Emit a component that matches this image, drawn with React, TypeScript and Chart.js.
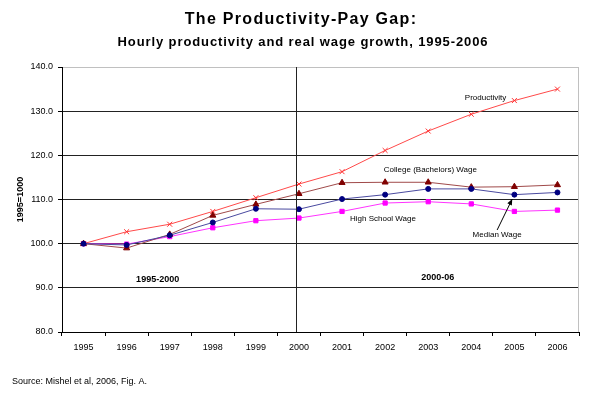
import React, { useEffect, useRef } from "react";
import { Chart, registerables } from "chart.js";

Chart.register(...registerables);

const years = ["1995", "1996", "1997", "1998", "1999", "2000", "2001", "2002", "2003", "2004", "2005", "2006"];
const productivity = [100, 102.7, 104.4, 107.3, 110.4, 113.5, 116.3, 121.1, 125.5, 129.3, 132.4, 135.0];
const collegeWage = [100, 99.0, 102.1, 106.4, 108.9, 111.3, 113.8, 113.9, 113.9, 112.8, 112.9, 113.3];
const medianWage = [100, 99.7, 101.9, 104.8, 107.9, 107.8, 110.1, 111.1, 112.4, 112.4, 111.1, 111.6];
const highSchoolWage = [100, 99.9, 101.6, 103.6, 105.2, 105.8, 107.3, 109.2, 109.5, 109.0, 107.3, 107.6];
const yMin = 80;
const yMax = 140;
const yStep = 10;

const FONT = "'Liberation Sans', Arial, sans-serif";

const overlayPlugin = {
  id: "overlay",
  beforeDraw(chart: any) {
    const { ctx, width, height } = chart;
    ctx.save();
    ctx.fillStyle = "#ffffff";
    ctx.fillRect(0, 0, width, height);
    ctx.restore();
  },
  afterDraw(chart: any) {
    const { ctx, chartArea } = chart;
    const xs = chart.scales.x;
    const ys = chart.scales.y;
    const px = (v: number) => xs.getPixelForValue(v);
    const py = (v: number) => ys.getPixelForValue(v);
    ctx.save();

    // right border
    ctx.strokeStyle = "#c0c0c0";
    ctx.lineWidth = 1;
    ctx.beginPath();
    ctx.moveTo(Math.round(chartArea.right) - 0.5, chartArea.top);
    ctx.lineTo(Math.round(chartArea.right) - 0.5, chartArea.bottom);
    ctx.stroke();

    // vertical divider at 2000
    const dx = Math.round(px(4.94)) + 0.5;
    ctx.strokeStyle = "#222222";
    ctx.beginPath();
    ctx.moveTo(dx, chartArea.top);
    ctx.lineTo(dx, chartArea.bottom);
    ctx.stroke();

    // titles
    ctx.fillStyle = "#000";
    ctx.textAlign = "center";
    ctx.textBaseline = "middle";
    ctx.font = `bold 16px ${FONT}`;
    (ctx as any).letterSpacing = "1.3px";
    ctx.fillText("The Productivity-Pay Gap:", 301, 20);
    ctx.font = `bold 13px ${FONT}`;
    (ctx as any).letterSpacing = "0.9px";
    ctx.fillText("Hourly productivity and real wage growth, 1995-2006", 303, 42);
    (ctx as any).letterSpacing = "0px";

    // source
    ctx.textAlign = "left";
    ctx.font = `9px ${FONT}`;
    ctx.fillText("Source: Mishel et al, 2006, Fig. A.", 12, 382);

    // y axis title
    ctx.save();
    ctx.translate(21, (chartArea.top + chartArea.bottom) / 2);
    ctx.rotate(-Math.PI / 2);
    ctx.textAlign = "center";
    ctx.font = `bold 9px ${FONT}`;
    ctx.fillText("1995=1000", 0, 0);
    ctx.restore();

    // series annotations
    ctx.textAlign = "center";
    ctx.font = `8px ${FONT}`;
    ctx.fillText("Productivity", px(9.33), py(133.1));
    ctx.fillText("College (Bachelors) Wage", px(8.05), py(116.7));
    ctx.fillText("High School Wage", px(6.95), py(105.6));
    ctx.fillText("Median Wage", px(9.6), py(102.0));
    ctx.font = `bold 9px ${FONT}`;
    ctx.fillText("1995-2000", px(1.72), py(91.8));
    ctx.fillText("2000-06", px(8.22), py(92.3));

    // arrow
    const x1 = px(9.6), y1 = py(103.1);
    const x2 = px(9.95), y2 = py(110.1);
    ctx.strokeStyle = "#000";
    ctx.lineWidth = 1;
    ctx.beginPath();
    ctx.moveTo(x1, y1);
    ctx.lineTo(x2, y2);
    ctx.stroke();
    const ang = Math.atan2(y2 - y1, x2 - x1);
    const hl = 6, hw = 2.5;
    ctx.fillStyle = "#000";
    ctx.beginPath();
    ctx.moveTo(x2, y2);
    ctx.lineTo(x2 - hl * Math.cos(ang) + hw * Math.sin(ang), y2 - hl * Math.sin(ang) - hw * Math.cos(ang));
    ctx.lineTo(x2 - hl * Math.cos(ang) - hw * Math.sin(ang), y2 - hl * Math.sin(ang) + hw * Math.cos(ang));
    ctx.closePath();
    ctx.fill();

    ctx.restore();
  },
};

export default function App() {
  const ref = useRef<HTMLCanvasElement | null>(null);
  useEffect(() => {
    if (!ref.current) return;
    const chart = new Chart(ref.current, {
      type: "line",
      data: {
        labels: years,
        datasets: [
          {
            label: "Median Wage",
            data: medianWage,
            borderColor: "#4a4aa0",
            backgroundColor: "#000080",
            pointBorderColor: "#000080",
            pointStyle: "circle",
            pointRadius: 2.5,
            borderWidth: 1,
          },
          {
            label: "College (Bachelors) Wage",
            data: collegeWage,
            borderColor: "#a04a4a",
            backgroundColor: "#800000",
            pointBorderColor: "#800000",
            pointStyle: "triangle",
            pointRadius: 3.5,
            borderWidth: 1,
          },
          {
            label: "Productivity",
            data: productivity,
            borderColor: "#ff4a4a",
            backgroundColor: "#ff4a4a",
            pointBorderColor: "#ff3333",
            pointStyle: "crossRot",
            pointRadius: 3.5,
            borderWidth: 1,
          },
          {
            label: "High School Wage",
            data: highSchoolWage,
            borderColor: "#ff33ff",
            backgroundColor: "#ff00ff",
            pointBorderColor: "#ff00ff",
            pointStyle: "rect",
            pointRadius: 3,
            borderWidth: 1,
          },
        ],
      },
      options: {
        responsive: false,
        animation: false,
        events: [],
        layout: { padding: { top: 67, right: 21, bottom: 46, left: 0 } },
        plugins: {
          legend: { display: false },
          tooltip: { enabled: false },
          title: { display: false },
        },
        scales: {
          x: {
            type: "category",
            offset: true,
            afterFit: (s: any) => {
              s.height = 20;
            },
            grid: {
              display: true,
              offset: true,
              drawOnChartArea: false,
              drawTicks: true,
              tickLength: 4,
              color: "#000",
            },
            border: { display: true, color: "#000", width: 1 },
            ticks: {
              color: "#000",
              font: { family: FONT, size: 9 },
              padding: 6,
              maxRotation: 0,
              autoSkip: false,
            },
          },
          y: {
            min: yMin,
            max: yMax,
            afterFit: (s: any) => {
              s.width = 62;
            },
            grid: {
              color: (c: any) => (c.tick && c.tick.value === yMax ? "#c0c0c0" : "#222222"),
              tickColor: "#000",
              tickLength: 4,
              lineWidth: 1,
            },
            border: { display: true, color: "#000", width: 1 },
            ticks: {
              stepSize: yStep,
              color: "#000",
              font: { family: FONT, size: 9 },
              padding: 5,
              callback: (v: any) => Number(v).toFixed(1),
            },
          },
        },
      },
      plugins: [overlayPlugin],
    });
    return () => chart.destroy();
  }, []);
  return (
    <div style={{ position: "fixed", left: 0, top: 0, width: 600, height: 398, background: "#fff" }}>
      <canvas ref={ref} width={600} height={398} style={{ width: 600, height: 398, display: "block" }} />
    </div>
  );
}
